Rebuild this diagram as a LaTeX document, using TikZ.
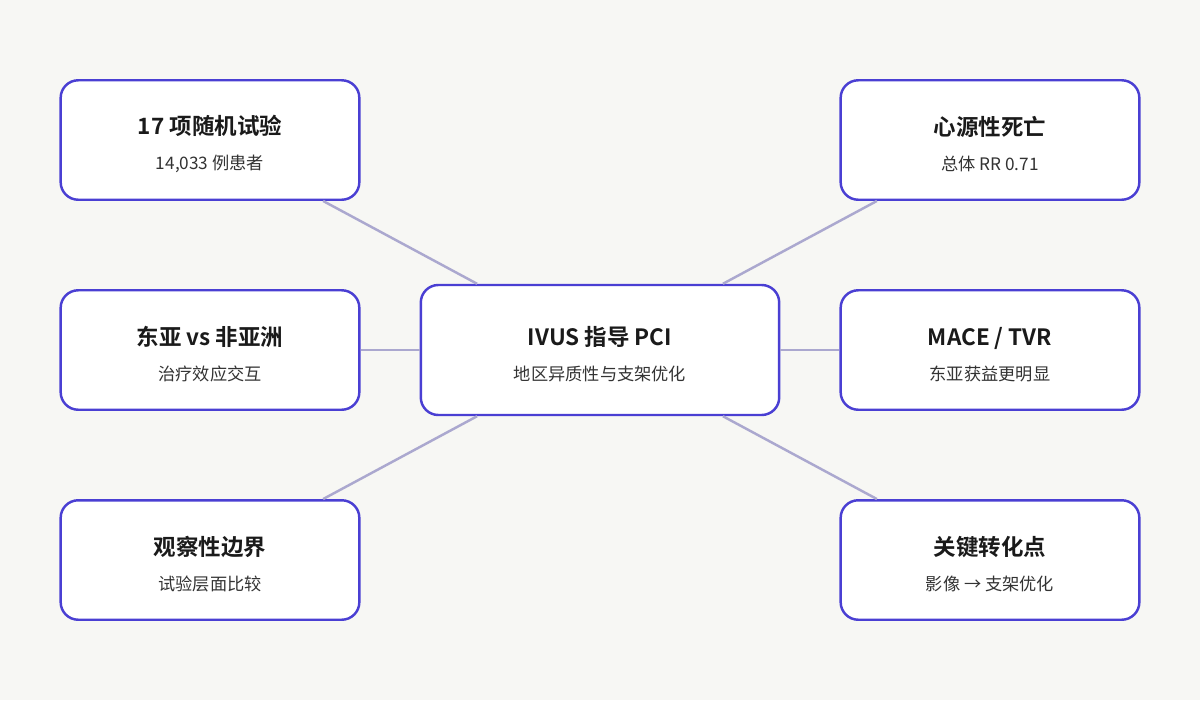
\documentclass[tikz,border=0pt]{standalone}
\usepackage{fontspec}
\setmainfont{Noto Sans CJK SC}[BoldFont={Noto Sans CJK SC Bold}]
\usetikzlibrary{positioning}
\definecolor{bgcol}{HTML}{F7F7F4}
\definecolor{boxline}{HTML}{4A3FD3}
\definecolor{linkcol}{HTML}{ABA8CF}
\definecolor{titlecol}{HTML}{1A1A1A}
\definecolor{subcol}{HTML}{333333}
\tikzset{
  topic/.style={draw=boxline, line width=1.4pt, fill=white, rounded corners=10pt,
    minimum width=170pt, minimum height=68pt, align=center, inner sep=0pt},
  hub/.style={topic, minimum width=204pt, minimum height=74pt},
  link/.style={draw=linkcol, line width=1.4pt}
}
\newcommand{\boxtext}[2]{{\fontsize{12.8pt}{14pt}\selectfont\bfseries\color{titlecol}\rule{0pt}{15.5pt}#1}\\[8pt]{\fontsize{9.8pt}{12pt}\selectfont\color{subcol}#2}}

\begin{document}
\begin{tikzpicture}[x=0.02cm,y=-0.02cm]
	\fill[bgcol] (0,0) rectangle (1200,700);
	\useasboundingbox (0,0) rectangle (1200,700);
	\node[hub] (ivus) at (600,350) {\boxtext{IVUS 指导 PCI}{地区异质性与支架优化}};
	\node[topic] (trials) at (210,140) {\boxtext{17 项随机试验}{14,033 例患者}};
	\node[topic] (region) at (210,350) {\boxtext{东亚 vs 非亚洲}{治疗效应交互}};
	\node[topic] (limits) at (210,560) {\boxtext{观察性边界}{试验层面比较}};
	\node[topic] (death) at (990,140) {\boxtext{心源性死亡}{总体 RR 0.71}};
	\node[topic] (mace) at (990,350) {\boxtext{MACE / TVR}{东亚获益更明显}};
	\node[topic] (key) at (990,560) {\boxtext{关键转化点}{影像 → 支架优化}};
	\path[link] (trials) -- (ivus);
	\path[link] (region) -- (ivus);
	\path[link] (limits) -- (ivus);
	\path[link] (death) -- (ivus);
	\path[link] (mace) -- (ivus);
	\path[link] (key) -- (ivus);
\end{tikzpicture}
\end{document}
